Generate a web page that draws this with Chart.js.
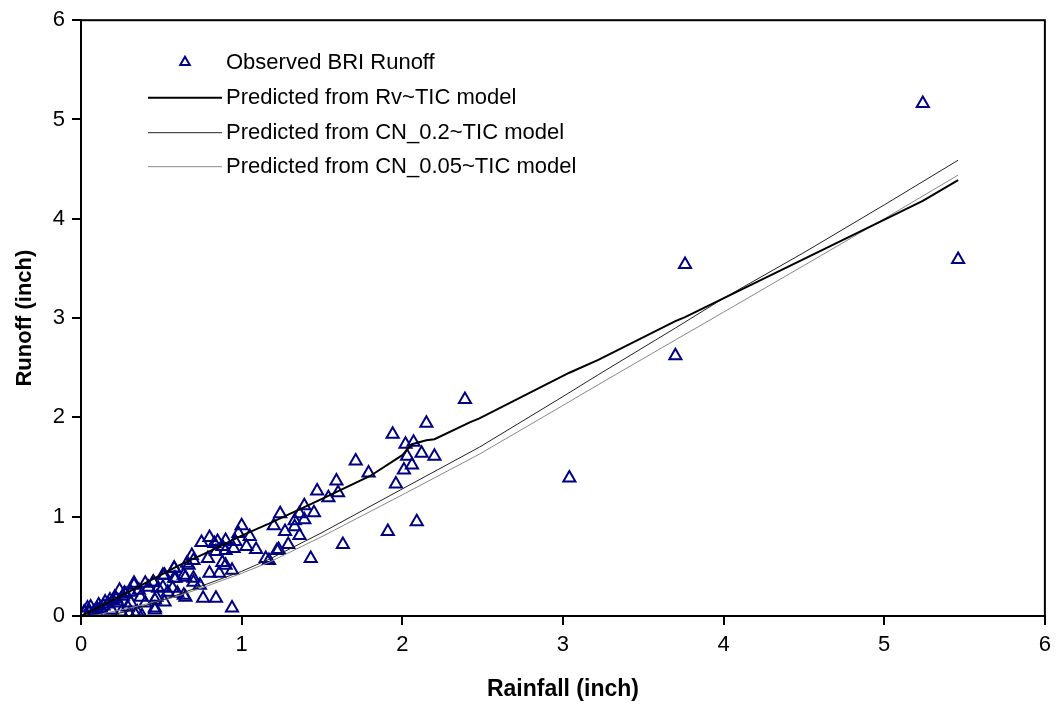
<!DOCTYPE html>
<html>
<head>
<meta charset="utf-8">
<script src="https://cdn.jsdelivr.net/npm/chart.js@4/dist/chart.umd.min.js"></script>
<style>
  html, body { margin: 0; padding: 0; background: #fff; }
  #wrap { width: 1058px; height: 711px; }
</style>
</head>
<body>
<div id="wrap"><canvas id="runoffChart" width="1058" height="711"></canvas></div>
<script>
// observed storms (rainfall, runoff in inches)
const rainfall = [
  5.24, 5.46, 3.76, 3.70, 3.04, 2.39, 2.15, 1.94, 2.02, 2.07, 2.12, 2.20, 2.03, 2.06, 2.01, 1.96,
  1.71, 1.79, 1.59, 1.60, 1.54, 1.47, 1.39, 1.45, 1.36, 1.24, 1.33, 1.39, 1.20, 1.27, 1.33, 1.36,
  1.29, 1.23, 1.17, 1.43, 1.63, 1.91, 2.09,
  1.00, 0.98, 1.05, 0.75, 0.80, 0.85, 0.90, 0.96, 0.84, 0.90, 0.95, 1.09, 1.15, 1.22, 0.69, 0.70,
  0.67, 0.79, 0.88, 0.80, 0.86, 0.94, 0.90, 0.58, 0.52, 0.59, 0.65, 0.70, 0.74, 0.45, 0.51, 0.57,
  0.65, 0.76, 0.84, 0.94, 0.46, 0.47, 1.03, 0.83, 0.88,
  0.66, 0.58, 0.51, 0.58, 0.64, 0.70, 0.33, 0.42, 0.48, 0.54, 0.60, 0.64, 0.27, 0.21, 0.37, 0.46,
  0.52, 0.15, 0.11, 0.29, 0.35, 0.46, 0.04, 0.06, 0.19, 0.25, 0.02, 0.08, 0.13, 0.31, 0.40, 0.23,
  0.18, 0.24, 0.45, 0.40, 0.36, 0.31, 0.33, 0.30, 0.34, 0.38, 0.10, 0.14, 0.17, 0.20, 0.26, 0.28,
  0.05, 0.09, 0.12, 0.22
];
const runoff = [
  5.16, 3.59, 3.54, 2.62, 1.39, 2.18, 1.94, 1.83, 1.73, 1.75, 1.64, 1.61, 1.61, 1.52, 1.47, 1.33,
  1.56, 1.44, 1.36, 1.24, 1.19, 1.26, 1.11, 1.04, 1.03, 1.03, 0.96, 0.97, 0.91, 0.85, 0.90, 0.81,
  0.72, 0.67, 0.56, 0.58, 0.72, 0.85, 0.95,
  0.91, 0.83, 0.80, 0.74, 0.79, 0.75, 0.76, 0.75, 0.65, 0.66, 0.68, 0.67, 0.58, 0.66, 0.61, 0.56,
  0.51, 0.58, 0.54, 0.43, 0.43, 0.46, 0.51, 0.48, 0.41, 0.38, 0.39, 0.38, 0.31, 0.34, 0.29, 0.28,
  0.19, 0.18, 0.18, 0.08, 0.08, 0.19, 0.70, 0.73, 0.70,
  0.53, 0.48, 0.41, 0.38, 0.41, 0.34, 0.31, 0.29, 0.28, 0.24, 0.23, 0.21, 0.23, 0.19, 0.19, 0.16,
  0.14, 0.14, 0.11, 0.09, 0.04, 0.06, 0.08, 0.09, 0.06, 0.04, 0.04, 0.04, 0.06, 0.13, 0.13, 0.13,
  0.16, 0.26, 0.34, 0.33, 0.26, 0.24, 0.33, 0.02, 0.01, 0.00, 0.07, 0.10, 0.12, 0.15, 0.20, 0.22,
  0.03, 0.05, 0.08, 0.17
];

// model predictions
const rvX = [0, 0.2, 0.4, 0.61, 0.8, 1.0, 1.17, 1.5, 1.8, 2.0, 2.06, 2.15, 2.2, 2.42, 2.48, 3.04, 3.22, 3.70, 3.76, 5.24, 5.46];
const rvY = [0, 0.16, 0.33, 0.51, 0.65, 0.81, 0.93, 1.18, 1.41, 1.62, 1.73, 1.77, 1.78, 1.95, 1.99, 2.45, 2.58, 2.97, 3.01, 4.18, 4.39];

const cn02X = [0, 0.15, 0.3, 0.56, 0.73, 1.0, 1.17, 1.5, 2.0, 2.48, 3.0, 3.22, 3.7, 4.0, 4.5, 5.0, 5.46];
const cn02Y = [0, 0.0, 0.05, 0.19, 0.29, 0.45, 0.57, 0.84, 1.28, 1.70, 2.21, 2.43, 2.90, 3.20, 3.66, 4.14, 4.59];

const cn005X = [0, 0.1, 0.3, 0.56, 0.73, 1.0, 1.17, 1.5, 2.0, 2.48, 3.0, 3.22, 3.7, 4.0, 4.5, 5.0, 5.46];
const cn005Y = [0, 0.01, 0.08, 0.18, 0.27, 0.43, 0.54, 0.80, 1.22, 1.63, 2.12, 2.33, 2.78, 3.06, 3.53, 4.00, 4.44];

const axisTicks = [0, 1, 2, 3, 4, 5, 6];

const seriesNames = [
  'Observed BRI Runoff',
  'Predicted from Rv~TIC model',
  'Predicted from CN_0.2~TIC model',
  'Predicted from CN_0.05~TIC model'
];

const toPoints = (xs, ys) => xs.map((x, i) => ({x: x, y: ys[i]}));
const FONT = "'Liberation Sans', Arial, sans-serif";

// legend sits inside the plot box, like the original
const boxLegend = {
  id: 'boxLegend',
  afterDraw(chart) {
    const {ctx, chartArea} = chart;
    const x0 = chartArea.left + 67, x1 = chartArea.left + 141, tx = chartArea.left + 145;
    const rows = [42, 77, 112, 146];
    ctx.save();
    ctx.font = '22px ' + FONT;
    ctx.textBaseline = 'middle';
    chart.data.datasets.forEach((ds, i) => {
      const y = chartArea.top + rows[i];
      if (i === 0) {
        const r = 5.5;
        ctx.strokeStyle = ds.pointBorderColor;
        ctx.lineWidth = 2;
        ctx.beginPath();
        ctx.moveTo(x0 + 37, y - r);
        ctx.lineTo(x0 + 37 + r * 0.87, y + r * 0.5);
        ctx.lineTo(x0 + 37 - r * 0.87, y + r * 0.5);
        ctx.closePath();
        ctx.stroke();
      } else {
        ctx.strokeStyle = ds.borderColor;
        ctx.lineWidth = ds.borderWidth;
        ctx.beginPath();
        ctx.moveTo(x0, y + 0.5);
        ctx.lineTo(x1, y + 0.5);
        ctx.stroke();
      }
      ctx.fillStyle = '#000';
      ctx.fillText(seriesNames[i], tx, y + 1);
    });
    // box around plot
    ctx.strokeStyle = '#000';
    ctx.lineWidth = 2;
    ctx.strokeRect(chartArea.left, chartArea.top, chartArea.right - chartArea.left, chartArea.bottom - chartArea.top);
    ctx.restore();
  }
};

new Chart(document.getElementById('runoffChart'), {
  type: 'scatter',
  data: {
    datasets: [{
      label: seriesNames[0],
      data: toPoints(rainfall, runoff),
      pointStyle: 'triangle',
      pointRadius: 7,
      pointBorderWidth: 2,
      pointBorderColor: '#000080',
      pointBackgroundColor: 'rgba(0,0,0,0)',
      showLine: false,
      order: 1
    }, {
      label: seriesNames[1],
      data: toPoints(rvX, rvY),
      showLine: true,
      borderColor: '#000',
      borderWidth: 2,
      pointRadius: 0,
      tension: 0,
      order: 0
    }, {
      label: seriesNames[2],
      data: toPoints(cn02X, cn02Y),
      showLine: true,
      borderColor: '#222',
      borderWidth: 1,
      pointRadius: 0,
      order: 0
    }, {
      label: seriesNames[3],
      data: toPoints(cn005X, cn005Y),
      showLine: true,
      borderColor: '#888',
      borderWidth: 1,
      pointRadius: 0,
      order: 0
    }]
  },
  options: {
    responsive: false,
    animation: false,
    layout: { padding: { left: 0, right: 6, top: 18, bottom: 0 } },
    plugins: {
      legend: { display: false },
      tooltip: { enabled: false }
    },
    scales: {
      x: {
        type: 'linear',
        min: 0, max: 6,
        afterBuildTicks: (s) => { s.ticks = axisTicks.map(v => ({value: v})); },
        afterFit: (s) => { s.height = 95; },
        grid: { drawOnChartArea: false, drawTicks: true, tickLength: 9, color: '#000', lineWidth: 2 },
        border: { display: true, color: '#000', width: 2 },
        ticks: { color: '#000', padding: 7, font: { family: FONT, size: 22 } },
        title: {
          display: true, text: 'Rainfall (inch)', color: '#000',
          font: { family: FONT, size: 23, weight: 'bold' },
          padding: { top: 4, bottom: 8 }
        }
      },
      y: {
        type: 'linear',
        min: 0, max: 6,
        afterBuildTicks: (s) => { s.ticks = axisTicks.map(v => ({value: v})); },
        afterFit: (s) => { s.width = 81; },
        grid: { drawOnChartArea: false, drawTicks: true, tickLength: 9, color: '#000', lineWidth: 2 },
        border: { display: true, color: '#000', width: 2 },
        ticks: { color: '#000', padding: 7, font: { family: FONT, size: 22 } },
        title: {
          display: true, text: 'Runoff (inch)', color: '#000',
          font: { family: FONT, size: 22, weight: 'bold' },
          padding: { top: 12, bottom: 4 }
        }
      }
    }
  },
  plugins: [boxLegend]
});
</script>
</body>
</html>
